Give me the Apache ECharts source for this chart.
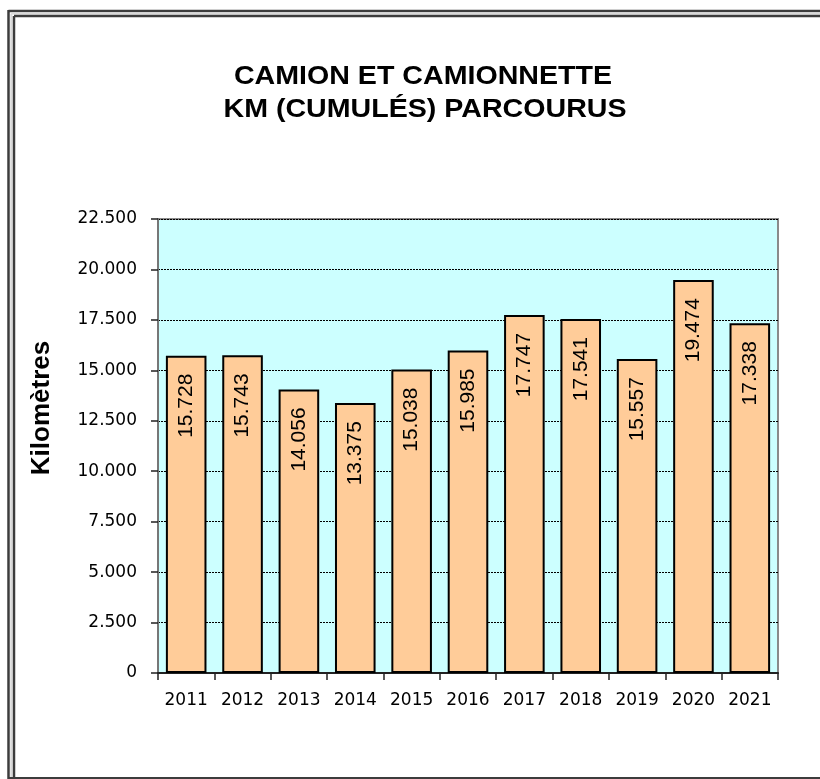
<!DOCTYPE html>
<html>
<head>
<meta charset="utf-8">
<script src="https://cdn.jsdelivr.net/npm/echarts@6/dist/echarts.min.js"></script>
<style>
html,body{margin:0;padding:0;background:#fff;overflow:hidden;}
#c{width:820px;height:779px;}
</style>
</head>
<body>
<div id="c"></div>
<script>
const categories = ['2011','2012','2013','2014','2015','2016','2017','2018','2019','2020','2021'];
const kmValues = [15728, 15743, 14056, 13375, 15038, 15985, 17747, 17541, 15557, 19474, 17338];
const titleLines = ['CAMION ET CAMIONNETTE', 'KM (CUMULÉS) PARCOURUS'];
const yAxisName = 'Kilomètres';

function fmt(v) {
  const s = String(Math.round(v));
  return s.replace(/\B(?=(\d{3})+(?!\d))/g, '.');
}

function seg(x1, y1, x2, y2, color, w) {
  return {type: 'line', silent: true, shape: {x1: x1, y1: y1, x2: x2, y2: y2}, style: {stroke: color, lineWidth: w}};
}

const chart = echarts.init(document.getElementById('c'), null, {renderer: 'canvas'});
chart.setOption({
  animation: false,
  backgroundColor: '#ffffff',
  grid: {
    left: 158, top: 219, right: 42, bottom: 106,
    show: true, backgroundColor: '#CCFFFF', borderColor: '#8a8a8a', borderWidth: 2
  },
  graphic: [
    seg(8.5, 10, 8.5, 790, '#3c3c3c', 2.5),
    seg(8.5, 11, 830, 11, '#3c3c3c', 2.5),
    seg(11.3, 13.5, 11.3, 790, '#d8d8d8', 2),
    seg(11.3, 13.5, 830, 13.5, '#d8d8d8', 2),
    seg(14, 16, 14, 790, '#3c3c3c', 2.5),
    seg(14, 16, 830, 16, '#3c3c3c', 2.5),
    seg(8, 778, 830, 778, '#3c3c3c', 2),
    {type: 'text', x: 423, y: 77, scaleX: 1.1, style: {text: titleLines[0], font: 'bold 26px "Liberation Sans", Arial, sans-serif', fill: '#000', textAlign: 'center', textVerticalAlign: 'middle'}},
    {type: 'text', x: 425, y: 110, scaleX: 1.1, style: {text: titleLines[1], font: 'bold 26px "Liberation Sans", Arial, sans-serif', fill: '#000', textAlign: 'center', textVerticalAlign: 'middle'}},
    {type: 'text', x: 42, y: 408, rotation: Math.PI / 2, style: {text: yAxisName, font: 'bold 26px "Liberation Sans", Arial, sans-serif', fill: '#000', textAlign: 'center', textVerticalAlign: 'middle'}}
  ],
  xAxis: {
    type: 'category',
    data: categories,
    axisLine: {show: true, lineStyle: {color: '#222', width: 2}},
    axisTick: {show: true, length: 7, lineStyle: {color: '#222', width: 1.5}},
    axisLabel: {color: '#000', fontFamily: '"DejaVu Sans", Tahoma, sans-serif', fontSize: 17, margin: 19},
    splitLine: {show: false}
  },
  yAxis: {
    type: 'value',
    min: 0, max: 22500, interval: 2500,
    axisLine: {show: true, lineStyle: {color: '#777', width: 2}},
    axisTick: {show: true, length: 7, lineStyle: {color: '#222', width: 1.5}},
    axisLabel: {color: '#000', fontFamily: '"DejaVu Sans", Tahoma, sans-serif', fontSize: 17, margin: 21, formatter: v => v === 0 ? '0' : fmt(v)},
    splitLine: {show: true, lineStyle: {color: '#000', width: 1, type: [2, 1]}}
  },
  series: [{
    type: 'bar',
    data: kmValues,
    barWidth: '72%',
    itemStyle: {color: '#FFCC99', borderColor: '#000', borderWidth: 2},
    label: {
      show: true,
      position: 'insideTop',
      rotate: 90,
      align: 'right',
      verticalAlign: 'middle',
      distance: 18,
      color: '#000',
      fontFamily: '"Liberation Sans", Arial, sans-serif',
      fontSize: 21,
      formatter: p => fmt(p.value)
    }
  }]
});
</script>
</body>
</html>
